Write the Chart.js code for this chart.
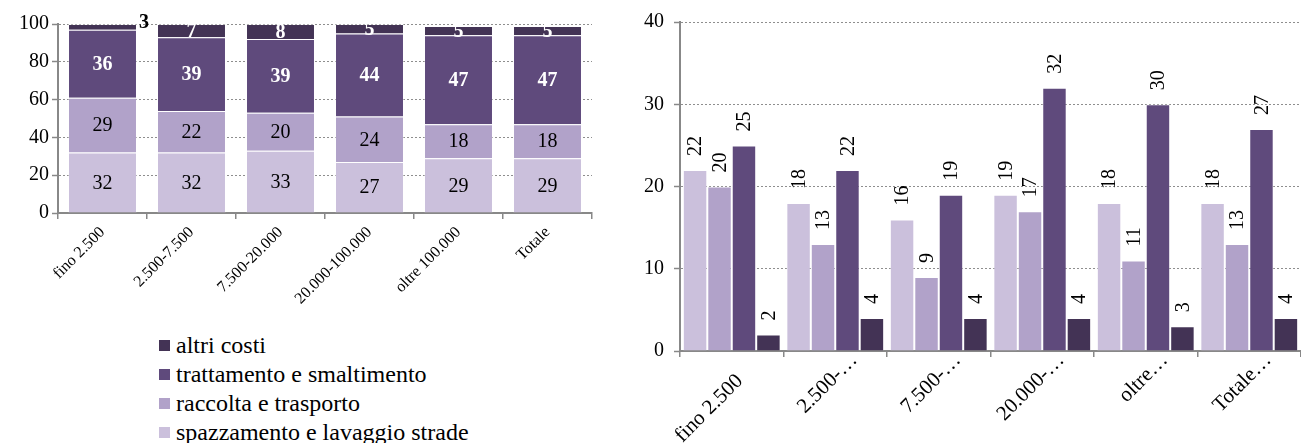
<!DOCTYPE html>
<html>
<head>
<meta charset="utf-8">
<script src="https://cdn.jsdelivr.net/npm/chart.js@4/dist/chart.umd.min.js"></script>
<style>
  html, body { margin: 0; padding: 0; background: #fff; }
  body { width: 1301px; height: 443px; position: relative; overflow: hidden; }
  #leftBox { position: absolute; left: 0; top: 0; width: 620px; height: 318px; }
  #rightBox { position: absolute; left: 620px; top: 0; width: 681px; height: 443px; }
  #legend { position: absolute; left: 159px; top: 331px; font: 24px "Liberation Serif", "Times New Roman", serif; color: #000; }
  #legend .item { height: 29px; line-height: 29px; white-space: nowrap; }
  #legend .box { display: inline-block; width: 11px; height: 11px; margin-right: 6px; vertical-align: middle; position: relative; top: -2px; }
</style>
</head>
<body>
<div id="leftBox"><canvas id="pctChart"></canvas></div>
<div id="rightBox"><canvas id="valChart"></canvas></div>
<div id="legend"></div>
<script>
const FONT = '"Liberation Serif", "Times New Roman", serif';

// classi di ampiezza dei comuni
const categories = ['fino 2.500', '2.500-7.500', '7.500-20.000', '20.000-100.000', 'oltre 100.000', 'Totale'];
const shortLabels = ['fino 2.500', '2.500-…', '7.500-…', '20.000-…', 'oltre…', 'Totale…'];
const seriesNames = ['spazzamento e lavaggio strade', 'raccolta e trasporto', 'trattamento e smaltimento', 'altri costi'];
const seriesColors = ['#CBC0DC', '#B1A2C9', '#5F4A7C', '#433355'];

// composizione percentuale dei costi
const spazzamentoPct = [32, 32, 33, 27, 29, 29];
const raccoltaPct = [29, 22, 20, 24, 18, 18];
const trattamentoPct = [36, 39, 39, 44, 47, 47];
const altriPct = [3, 7, 8, 5, 5, 5];
const pctTicks = [0, 20, 40, 60, 80, 100];

// valori per classe
const spazzamentoVal = [22, 18, 16, 19, 18, 18];
const raccoltaVal = [20, 13, 9, 17, 11, 13];
const trattamentoVal = [25, 22, 19, 32, 30, 27];
const altriVal = [2, 4, 4, 4, 3, 4];
const valTicks = [0, 10, 20, 30, 40];

const AXIS = '#888888';
const GRID = '#8e8e8e';

function yScale(ticks, width, pad) {
  return {
    min: ticks[0], max: ticks[ticks.length - 1],
    afterBuildTicks: s => { s.ticks = ticks.map(v => ({ value: v })); },
    afterFit: s => { s.width = width; },
    ticks: { font: { family: FONT, size: 20 }, color: '#000', padding: pad },
    grid: { color: GRID, lineWidth: 1, tickLength: 6, tickColor: AXIS, tickWidth: 1.5 },
    border: { color: AXIS, width: 2, dash: [2, 2] }
  };
}

function xScale(fontSize, height, pad, showTicks) {
  return {
    afterFit: s => { s.height = height; },
    ticks: { display: showTicks, font: { family: FONT, size: fontSize }, color: '#000', minRotation: 45, maxRotation: 45, padding: pad, autoSkip: false },
    grid: { offset: true, drawOnChartArea: false, tickLength: 6, color: AXIS, lineWidth: 1.5 },
    border: { color: AXIS, width: 2 }
  };
}

// etichette dentro le barre impilate
const stackLabels = {
  id: 'stackLabels',
  afterDatasetsDraw(chart) {
    const { ctx, chartArea } = chart;
    chart.data.datasets.forEach((ds, i) => {
      chart.getDatasetMeta(i).data.forEach((bar, j) => {
        const v = ds.data[j];
        const h = bar.base - bar.y;
        const dark = i >= 2;
        ctx.save();
        ctx.textAlign = 'center';
        ctx.textBaseline = 'middle';
        if (h < 8) {
          // segmento troppo sottile: etichetta fuori, in nero
          ctx.font = 'bold 20px ' + FONT;
          ctx.fillStyle = '#000';
          ctx.fillText(v, bar.x + bar.width / 2 + 7, bar.y - 1);
        } else {
          ctx.beginPath();
          ctx.rect(chartArea.left, chartArea.top, chartArea.right - chartArea.left, chartArea.bottom - chartArea.top);
          ctx.clip();
          ctx.font = (dark ? 'bold ' : '') + '20px ' + FONT;
          ctx.fillStyle = dark ? '#fff' : '#000';
          ctx.fillText(v, bar.x, (bar.y + bar.base) / 2 + 1);
        }
        ctx.restore();
      });
    });
  }
};

// etichette verticali sopra le barre + categorie inclinate
const topLabels = {
  id: 'topLabels',
  afterDatasetsDraw(chart) {
    const { ctx } = chart;
    chart.data.datasets.forEach((ds, i) => {
      chart.getDatasetMeta(i).data.forEach((bar, j) => {
        ctx.save();
        ctx.translate(bar.x + 1, bar.y - 14);
        ctx.rotate(-Math.PI / 2);
        ctx.font = '20px ' + FONT;
        ctx.fillStyle = '#000';
        ctx.textAlign = 'left';
        ctx.textBaseline = 'middle';
        ctx.fillText(ds.data[j], 0, 0);
        ctx.restore();
      });
    });
  },
  afterDraw(chart) {
    const { ctx } = chart;
    const xs = chart.scales.x;
    chart.data.labels.forEach((lab, i) => {
      // le etichette troncate stanno in un riquadro più alto e spostato a destra
      const cut = lab.endsWith('…');
      ctx.save();
      ctx.translate(xs.getPixelForValue(i) + (cut ? 19 : 8), xs.top + (cut ? 6 : 27));
      ctx.rotate(-Math.PI / 4);
      ctx.font = '21px ' + FONT;
      ctx.fillStyle = '#000';
      ctx.textAlign = 'right';
      ctx.textBaseline = 'middle';
      ctx.fillText(lab, 0, 0);
      ctx.restore();
    });
  }
};

const pctSeries = [spazzamentoPct, raccoltaPct, trattamentoPct, altriPct];
const valSeries = [spazzamentoVal, raccoltaVal, trattamentoVal, altriVal];

const pctChart = new Chart(document.getElementById('pctChart'), {
  type: 'bar',
  data: {
    labels: categories,
    datasets: pctSeries.map((d, i) => ({
      label: seriesNames[i], data: d, backgroundColor: seriesColors[i],
      borderColor: 'rgba(255,255,255,0.35)', borderWidth: 1,
      barPercentage: 0.775, categoryPercentage: 1
    }))
  },
  options: {
    responsive: true, maintainAspectRatio: false, animation: false,
    layout: { padding: { top: 24, right: 28, left: 0, bottom: 0 } },
    plugins: { legend: { display: false }, tooltip: { enabled: false } },
    scales: {
      x: Object.assign(xScale(16, 105, 4, true), { stacked: true }),
      y: Object.assign(yScale(pctTicks, 58, 3), { stacked: true })
    }
  },
  plugins: [stackLabels]
});

new Chart(document.getElementById('valChart'), {
  type: 'bar',
  data: {
    labels: shortLabels,
    datasets: valSeries.map((d, i) => ({
      label: seriesNames[i], data: d, backgroundColor: seriesColors[i],
      borderColor: 'rgba(255,255,255,0.35)', borderWidth: 1,
      barPercentage: 1, categoryPercentage: 0.945
    }))
  },
  options: {
    responsive: true, maintainAspectRatio: false, animation: false,
    layout: { padding: { top: 19, right: 0, left: 0, bottom: 0 } },
    plugins: { legend: { display: false }, tooltip: { enabled: false } },
    scales: {
      x: xScale(21, 92, 8, false),
      y: yScale(valTicks, 60, 10)
    }
  },
  plugins: [topLabels]
});

// legenda in ordine inverso, come le pile
const legendItems = pctChart.options.plugins.legend.labels.generateLabels(pctChart).reverse();
const legendEl = document.getElementById('legend');
for (const it of legendItems) {
  const row = document.createElement('div');
  row.className = 'item';
  row.innerHTML = `<span class="box" style="background:${it.fillStyle}"></span>${it.text}`;
  legendEl.appendChild(row);
}
</script>
</body>
</html>
